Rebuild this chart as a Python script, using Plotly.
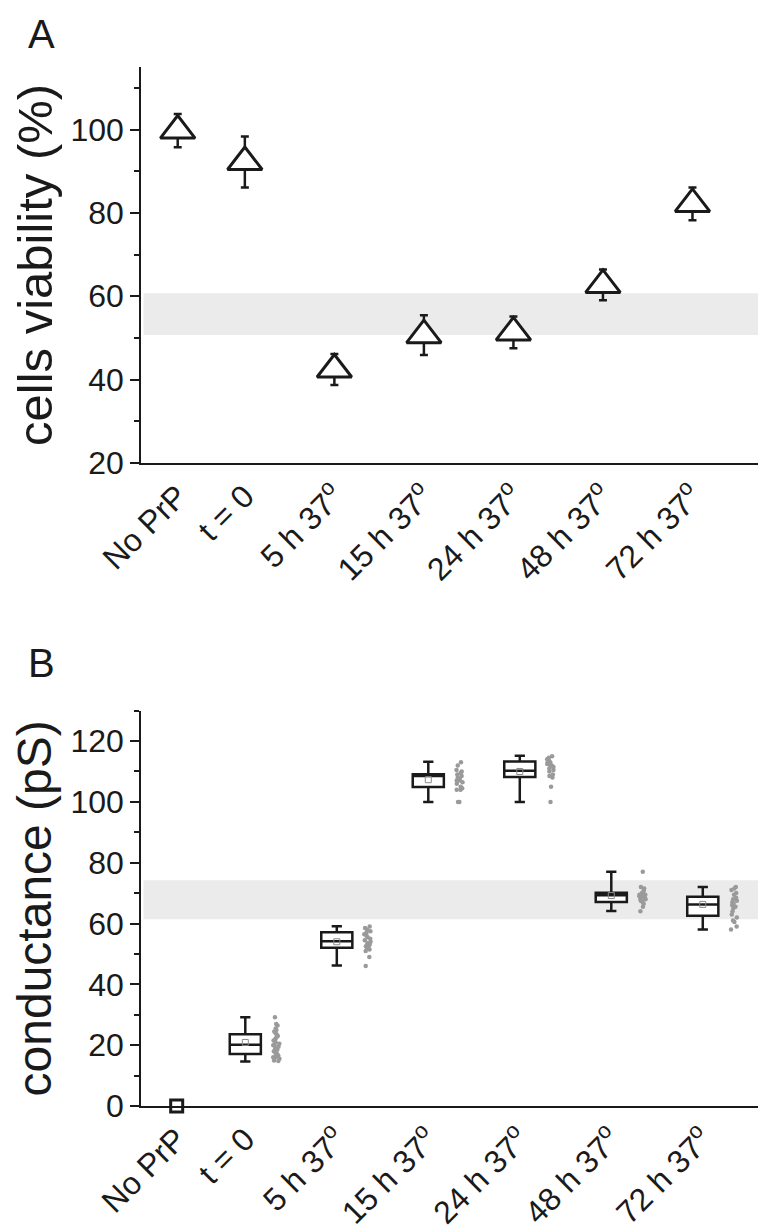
import plotly.graph_objects as go

# categories (shared by both panels)
tick_text = ["No PrP", "t = 0", "5 h 37<sup>o</sup>", "15 h 37<sup>o</sup>",
             "24 h 37<sup>o</sup>", "48 h 37<sup>o</sup>", "72 h 37<sup>o</sup>"]
group_x = [0.25, 1, 2, 3, 4, 5, 6]

# panel A: cell viability
viability = [99.75, 92.2, 42.4, 50.65, 51.3, 62.7, 82.15]
viability_err = [4.0, 6.1, 3.7, 4.75, 3.8, 3.7, 3.95]
viability_band = [50.7, 60.7]

# panel B: conductance (box stats for t = 0 ... 72 h)
noprp_conductance = 0
box_lower = [14.6, 46.2, 100.0, 100.0, 64.1, 58.0]
box_q1 = [17.1, 52.0, 104.9, 108.2, 67.1, 62.6]
box_median = [20.1, 54.2, 108.5, 110.2, 69.3, 66.3]
box_q3 = [23.6, 57.1, 109.1, 113.3, 70.1, 68.8]
box_upper = [29.2, 59.1, 113.2, 115.2, 77.0, 72.0]
box_mean = [20.9, 54.0, 107.3, 110.0, 69.2, 66.3]
conductance_band = [61.4, 74.2]

pts_t0 = [29.2, 27, 26.5, 25.5, 25, 24.5, 24, 23.5, 23, 22.5, 22, 21.5, 21, 20.5, 20,
          20, 19.5, 19, 18.5, 18, 17.5, 17, 17, 16.5, 16, 16, 15.5, 15, 14.8]
pts_5h = [59, 58.5, 58, 57.5, 57, 56.5, 56, 55.5, 55, 54.5, 54, 53.5, 53, 52.5, 52,
          52, 51.5, 51, 49, 46]
pts_15h = [113, 112, 110.5, 110, 109.5, 109, 108.5, 108, 107.5, 107, 107, 106.5,
           106, 105, 104.5, 104, 104, 100, 100]
pts_24h = [115, 114.5, 114, 114, 113.5, 113, 113, 112.5, 112, 112, 111.5, 111,
           110.5, 110, 109, 108.5, 108, 105, 100]
pts_48h = [77, 72, 71.5, 71, 70.5, 70, 69.5, 69.5, 69, 69, 68.5, 68.5, 68, 68,
           67.5, 67.5, 67, 66.5, 65.5, 64]
pts_72h = [72, 71.5, 71, 70, 69.5, 68.5, 68, 67.5, 67, 66.5, 66, 65.5, 65, 64, 63,
           62, 61, 60.5, 59, 58]
points = [pts_t0, pts_5h, pts_15h, pts_24h, pts_48h, pts_72h]

FONT = "Liberation Sans, Arial, sans-serif"
BLACK = "#1a1a1a"

fig = go.Figure()

# --- panel A ---
fig.add_trace(go.Scatter(
    x=group_x, y=viability, mode="markers",
    marker=dict(symbol="triangle-up", size=30, color="white",
                line=dict(color=BLACK, width=3)),
    error_y=dict(type="data", array=viability_err, color=BLACK,
                 thickness=2.5, width=4),
    xaxis="x", yaxis="y", showlegend=False
))

# --- panel B ---
box_x = group_x[1:]
fig.add_trace(go.Box(
    x=box_x, q1=box_q1, median=box_median, q3=box_q3,
    lowerfence=box_lower, upperfence=box_upper,
    width=0.34, whiskerwidth=0.33, boxpoints=False,
    fillcolor="white", line=dict(color=BLACK, width=2.5),
    xaxis="x2", yaxis="y2", showlegend=False
))

# raw points next to each box
px, py = [], []
for xv, vals in zip(box_x, points):
    px += [xv] * len(vals)
    py += vals
fig.add_trace(go.Box(
    x=px, y=py, width=0.34, boxpoints="all", jitter=0.25, pointpos=2.0,
    fillcolor="rgba(0,0,0,0)", line=dict(color="rgba(0,0,0,0)", width=0),
    marker=dict(color="#9a9a9a", size=4.5),
    xaxis="x2", yaxis="y2", showlegend=False, hoverinfo="skip"
))

fig.add_trace(go.Scatter(
    x=box_x, y=box_mean, mode="markers",
    marker=dict(symbol="square-open", size=6, color="#8a8a8a", line=dict(width=1)),
    xaxis="x2", yaxis="y2", showlegend=False
))

fig.add_trace(go.Scatter(
    x=[group_x[0]], y=[noprp_conductance], mode="markers", cliponaxis=False,
    marker=dict(symbol="square", size=12, color="white",
                line=dict(color=BLACK, width=3)),
    xaxis="x2", yaxis="y2", showlegend=False
))

# grey reference bands
fig.add_shape(type="rect", xref="x domain", yref="y", x0=0.004, x1=1,
              y0=viability_band[0], y1=viability_band[1],
              fillcolor="#ebebeb", line_width=0, layer="below")
fig.add_shape(type="rect", xref="x2 domain", yref="y2", x0=0.004, x1=1,
              y0=conductance_band[0], y1=conductance_band[1],
              fillcolor="#ebebeb", line_width=0, layer="below")

xcommon = dict(
    tickmode="array", tickvals=group_x, ticktext=tick_text, tickangle=-45,
    ticks="", showline=True, linecolor=BLACK, linewidth=1.5,
    showgrid=False, zeroline=False,
    tickfont=dict(family=FONT, size=32, color=BLACK),
)
ycommon = dict(
    dtick=20, ticks="outside", ticklen=9, tickwidth=1.5, tickcolor=BLACK,
    showline=True, linecolor=BLACK, linewidth=1.5,
    showgrid=False, zeroline=False,
    minor=dict(dtick=10, ticks="outside", ticklen=5, tickwidth=1.5, tickcolor=BLACK),
    tickfont=dict(family=FONT, size=32, color=BLACK),
)

fig.update_layout(
    width=766, height=1232,
    margin=dict(l=133, r=9, t=59, b=134),
    paper_bgcolor="white", plot_bgcolor="white",
    boxmode="overlay",
    xaxis=dict(xcommon, domain=[0, 1], range=[-0.16, 6.81], anchor="y"),
    yaxis=dict(ycommon, domain=[0.619, 1.0], range=[20, 115], tick0=20, anchor="x",
               title=dict(text="cells viability (%)",
                          font=dict(family=FONT, size=49, color=BLACK), standoff=5)),
    xaxis2=dict(xcommon, domain=[0, 1], range=[-0.14, 6.68], anchor="y2"),
    yaxis2=dict(ycommon, domain=[0, 0.3805], range=[0, 130], tick0=0, anchor="x2",
                title=dict(text="conductance (pS)",
                           font=dict(family=FONT, size=48, color=BLACK), standoff=5)),
    annotations=[
        dict(text="A", x=-133 / 624, y=1.0, xref="paper", yref="paper",
             xanchor="left", yanchor="top", yshift=57, xshift=18, showarrow=False,
             font=dict(family=FONT, size=40, color=BLACK)),
        dict(text="B", x=-133 / 624, y=0.3805, xref="paper", yref="paper",
             xanchor="left", yanchor="top", yshift=72, xshift=18, showarrow=False,
             font=dict(family=FONT, size=40, color=BLACK)),
    ],
)

fig.write_html("out.html")
